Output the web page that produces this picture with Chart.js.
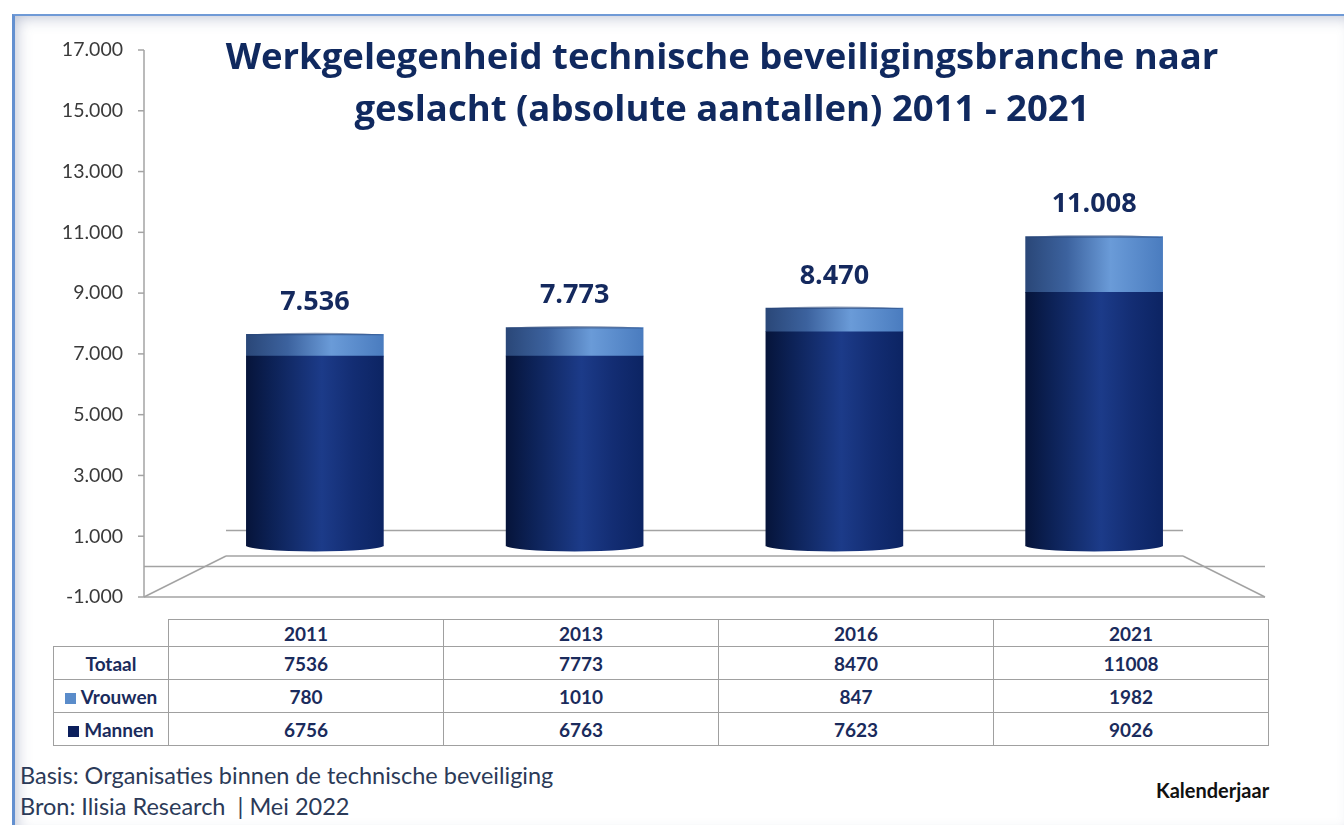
<!DOCTYPE html>
<html lang="nl">
<head>
<meta charset="utf-8">
<title>Werkgelegenheid technische beveiligingsbranche</title>
<script src="https://cdn.jsdelivr.net/npm/chart.js@4.4.1/dist/chart.umd.min.js"></script>
<style>
  html, body { margin: 0; padding: 0; background: #fff; }
  body { width: 1344px; height: 825px; position: relative; overflow: hidden; font-family: Lato, "Open Sans", sans-serif; }
  #frame {
    position: absolute; left: 12px; top: 14px; width: 1340px; height: 820px;
    border-left: 3px solid #6390d0; border-top: 2px solid #6f9ad6;
    box-shadow: inset 0 0 16px rgba(80, 95, 140, 0.45);
    background: #fff;
  }
  #chart { position: absolute; left: 0; top: 0; }
  #title {
    position: absolute; left: 160px; top: 29px; width: 1124px;
    text-align: center; font: bold 36.5px/52px "Open Sans", sans-serif; color: #10295f;
  }
  #tbl {
    position: absolute; left: 53px; top: 619px;
    border-collapse: collapse; table-layout: fixed;
    font: bold 19px Lato, sans-serif; color: #1a2b5c;
  }
  #tbl td, #tbl th { border: 1px solid #a0a0a0; text-align: center; padding: 0; }
  #tbl th { font-weight: bold; }
  #tbl th.blank { border-top: none; border-left: none; }
  #tbl tr.head { height: 27px; }
  #tbl tr.row { height: 33px; }
  .mark { display: inline-block; width: 11px; height: 11px; margin-right: 5px; vertical-align: 0px; }
  .note { position: absolute; left: 20px; font: 23.5px/28px Lato, sans-serif; color: #2b3a58; }
  #kal { position: absolute; left: 1156px; top: 778px; font: bold 20px/24px Lato, sans-serif; color: #111; }
</style>
</head>
<body>
<div id="frame"></div>
<canvas id="chart" width="1344" height="610"></canvas>
<div id="title">Werkgelegenheid technische beveiligingsbranche naar<br>geslacht (absolute aantallen) 2011 - 2021</div>
<table id="tbl"></table>
<div class="note" style="top:761px">Basis: Organisaties binnen de technische beveiliging</div>
<div class="note" style="top:792px">Bron: Ilisia Research&nbsp; | Mei 2022</div>
<div id="kal">Kalenderjaar</div>

<script>
// ---- data ----
const jaren = ["2011", "2013", "2016", "2021"];
const mannen = [6756, 6763, 7623, 9026];
const vrouwen = [780, 1010, 847, 1982];
const totaal = [7536, 7773, 8470, 11008];
const yTicks = [-1000, 1000, 3000, 5000, 7000, 9000, 11000, 13000, 15000, 17000];

const NAVY = "#0b1f5c";
const LIGHT = "#5a8cca";

// Dutch thousands separator: 17000 -> "17.000"
function fmt(v) {
  const s = String(Math.abs(v)).replace(/\B(?=(\d{3})+(?!\d))/g, ".");
  return (v < 0 ? "-" : "") + s;
}

// ---- data table under the chart ----
function buildTable() {
  const t = document.getElementById("tbl");
  const cols = '<col style="width:115px">' + jaren.map(() => '<col style="width:275px">').join("");
  let html = "<colgroup>" + cols + "</colgroup>";
  html += '<tr class="head"><th class="blank"></th>' + jaren.map((j) => "<th>" + j + "</th>").join("") + "</tr>";
  const rows = [
    ["Totaal", null, totaal],
    ["Vrouwen", LIGHT, vrouwen],
    ["Mannen", NAVY, mannen],
  ];
  rows.forEach(([name, col, vals]) => {
    const mark = col ? '<span class="mark" style="background:' + col + '"></span>' : "";
    html += '<tr class="row"><td>' + mark + name + "</td>" + vals.map((v) => "<td>" + v + "</td>").join("") + "</tr>";
  });
  t.innerHTML = html;
}
buildTable();

// ---- cylinder shading: horizontal gradient across each bar ----
function cylGradient(ctx, stops, light) {
  const chart = ctx.chart;
  if (!chart.chartArea || !chart.scales.x) return light ? LIGHT : NAVY;
  const x = chart.scales.x.getPixelForValue(ctx.dataIndex);
  const w = 137;
  const g = chart.ctx.createLinearGradient(x - w / 2, 0, x + w / 2, 0);
  stops.forEach(([p, c]) => g.addColorStop(p, c));
  return g;
}
const darkStops = [[0, "#06143a"], [0.18, "#0c2155"], [0.55, "#1c3b89"], [0.78, "#132d73"], [1, "#0c2463"]];
const lightStops = [[0, "#2a4778"], [0.3, "#3c629e"], [0.62, "#6a9bd8"], [1, "#4a7cbf"]];

// 3D frame: axis line, floor and zero lines (front plane / back wall)
const frame3d = {
  id: "frame3d",
  beforeDatasetsDraw(chart) {
    const { ctx, chartArea: a } = chart;
    const y = chart.scales.y;
    const d = 41;
    const fl = a.left - d, fr = a.right + d, bl = a.left + d, br = a.right - d;
    const yMin = y.getPixelForValue(-1000), yTop = y.getPixelForValue(17000), y0 = y.getPixelForValue(0);
    const line = (x1, y1, x2, y2) => { ctx.beginPath(); ctx.moveTo(x1, y1); ctx.lineTo(x2, y2); ctx.stroke(); };
    ctx.save();
    ctx.strokeStyle = "#a3a3a3";
    ctx.lineWidth = 1.5;
    line(fl, yTop, fl, yMin);
    yTicks.forEach((v) => { const p = y.getPixelForValue(v); line(fl - 6, p, fl, p); });
    line(fl, yMin, fr, yMin);
    line(fl, yMin, bl, yMin - d);
    line(bl, yMin - d, br, yMin - d);
    line(br, yMin - d, fr, yMin);
    line(fl, y0, fr, y0);
    line(bl, y0 - 36, br, y0 - 36);
    ctx.restore();
  },
  afterDatasetsDraw(chart) {
    const ctx = chart.ctx;
    const bottom = chart.getDatasetMeta(0).data;
    const top = chart.getDatasetMeta(1).data;
    ctx.save();
    // rounded cylinder bottoms
    bottom.forEach((bar) => {
      const g = ctx.createLinearGradient(bar.x - bar.width / 2, 0, bar.x + bar.width / 2, 0);
      darkStops.forEach(([p, c]) => g.addColorStop(p, c));
      ctx.fillStyle = g;
      ctx.beginPath();
      ctx.ellipse(bar.x, bar.base - 0.5, bar.width / 2, 6, 0, 0, Math.PI);
      ctx.fill();
    });
    // thin top caps + total labels
    top.forEach((bar, i) => {
      ctx.fillStyle = "rgba(40, 70, 120, 0.55)";
      ctx.beginPath();
      ctx.ellipse(bar.x, bar.y + 1, bar.width / 2, 2.5, 0, Math.PI, 2 * Math.PI);
      ctx.fill();
      ctx.fillStyle = "#14295e";
      ctx.font = "bold 27px 'Open Sans', sans-serif";
      ctx.textAlign = "center";
      ctx.textBaseline = "middle";
      ctx.fillText(fmt(totaal[i]), bar.x, bar.y - 32);
    });
    ctx.restore();
  },
};

new Chart(document.getElementById("chart"), {
  type: "bar",
  data: {
    labels: jaren,
    datasets: [
      {
        label: "Mannen",
        data: mannen,
        yAxisID: "yBar",
        backgroundColor: (c) => cylGradient(c, darkStops, false),
        borderWidth: 0,
        barThickness: 137,
      },
      {
        label: "Vrouwen",
        data: vrouwen,
        yAxisID: "yBar",
        backgroundColor: (c) => cylGradient(c, lightStops, true),
        borderWidth: 0,
        barThickness: 137,
      },
    ],
  },
  options: {
    responsive: false,
    animation: false,
    layout: { padding: { left: 0, right: 120, top: 50, bottom: 13 } },
    plugins: {
      legend: { display: false },
      tooltip: { enabled: false },
    },
    scales: {
      x: { display: false, stacked: true, offset: true, grid: { display: false } },
      y: {
        position: "left",
        min: -1000,
        max: 17000,
        grid: { display: false, drawTicks: false },
        border: { display: false },
        afterBuildTicks: (s) => { s.ticks = yTicks.map((v) => ({ value: v })); },
        afterFit: (s) => {
          s.width = 185;
          // the big label padding is only horizontal; don't let it push the plot area
          s.paddingTop = 10;
          s.paddingBottom = 10;
        },
        ticks: {
          padding: 62,
          color: "#3a3a3a",
          font: { family: "Lato", size: 19.5 },
          callback: (v) => fmt(v),
        },
      },
      // bars sit in the middle depth plane of the 3D box: slightly smaller scale, base raised
      yBar: { display: false, stacked: true, min: -1815, max: 17651 },
    },
  },
  plugins: [frame3d],
});
</script>
</body>
</html>
